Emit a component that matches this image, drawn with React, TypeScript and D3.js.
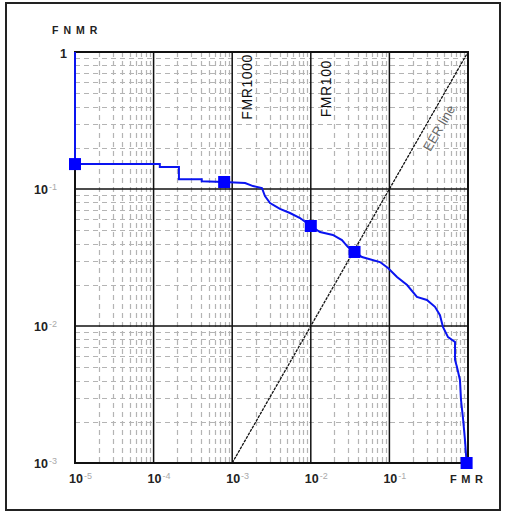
import React, { useEffect, useRef } from 'react';
import * as d3 from 'd3';

// DET curve (FMR, FNMR)
const fmr = [1e-5, 1e-5, 1.2e-4, 1.2e-4, 2.1e-4, 2.1e-4, 4.1e-4, 4.1e-4, 7.9e-4, 1.46e-3, 1.84e-3, 2.39e-3,
  2.61e-3, 3.03e-3, 4.05e-3, 5.43e-3, 7.3e-3, 1.0e-2, 1.31e-2, 1.91e-2, 2.49e-2, 2.97e-2, 3.6e-2, 4.48e-2,
  7.59e-2, 9.6e-2, 0.125, 0.168, 0.224, 0.30, 0.38, 0.44, 0.48, 0.557, 0.684, 0.684, 0.724, 0.79, 0.815,
  0.863, 0.916, 0.96];
const fnmr = [1.0, 0.152, 0.152, 0.145, 0.145, 0.118, 0.118, 0.114, 0.1125, 0.1106, 0.105, 0.1017,
  0.0889, 0.079, 0.0715, 0.0668, 0.0614, 0.0537, 0.0485, 0.0462, 0.0424, 0.0377, 0.0347, 0.0319,
  0.0293, 0.0265, 0.0228, 0.0199, 0.0163, 0.0155, 0.0138, 0.012, 0.00984, 0.0083, 0.00764, 0.00565,
  0.00502, 0.00404, 0.00288, 0.00213, 0.00147, 0.001];

const markerFmr = [1e-5, 7.9e-4, 1.0e-2, 3.6e-2, 0.96];
const markerFnmr = [0.152, 0.1125, 0.0537, 0.0347, 0.001];

const xExps = [-5, -4, -3, -2, -1];
const yExps = [-1, -2, -3];

export default function App() {
  const ref = useRef<SVGSVGElement>(null);

  useEffect(() => {
    const svg = d3.select(ref.current);
    svg.selectAll('*').remove();
    const font = 'Liberation Sans, Arial, sans-serif';

    const left = 75, right = 468, top = 52, bottom = 463;
    const x = d3.scaleLog().domain([1e-5, 1]).range([left, right]);
    const y = d3.scaleLog().domain([1e-3, 1]).range([bottom, top]);

    // outer frame
    svg.append('rect').attr('x', 6).attr('y', 3).attr('width', 494).attr('height', 507)
      .attr('fill', 'white').attr('stroke', '#222').attr('stroke-width', 2);

    // minor grid
    const minorX: number[] = [];
    for (let e = -5; e < 0; e++) for (let m = 2; m <= 9; m++) minorX.push(m * Math.pow(10, e));
    const minorY: number[] = [];
    for (let e = -3; e < 0; e++) for (let m = 2; m <= 9; m++) minorY.push(m * Math.pow(10, e));

    const grid = svg.append('g').attr('stroke', '#b4b4b4').attr('stroke-width', 1.2)
      .attr('stroke-dasharray', '5,4');
    grid.selectAll('.vx').data(minorX).enter().append('line')
      .attr('x1', d => Math.round(x(d)) + 0.5).attr('x2', d => Math.round(x(d)) + 0.5)
      .attr('y1', top).attr('y2', bottom);
    grid.selectAll('.hy').data(minorY).enter().append('line')
      .attr('y1', d => Math.round(y(d)) + 0.5).attr('y2', d => Math.round(y(d)) + 0.5)
      .attr('x1', left).attr('x2', right);

    // major grid
    const major = svg.append('g').attr('stroke', '#111').attr('stroke-width', 1.5);
    major.selectAll('.mx').data(xExps.slice(1)).enter().append('line')
      .attr('x1', d => x(Math.pow(10, d))).attr('x2', d => x(Math.pow(10, d)))
      .attr('y1', top).attr('y2', bottom);
    major.selectAll('.my').data(yExps.slice(0, 2)).enter().append('line')
      .attr('y1', d => y(Math.pow(10, d))).attr('y2', d => y(Math.pow(10, d)))
      .attr('x1', left).attr('x2', right);

    // plot frame
    svg.append('rect').attr('x', left).attr('y', top).attr('width', right - left).attr('height', bottom - top)
      .attr('fill', 'none').attr('stroke', '#111').attr('stroke-width', 2);

    // EER line
    svg.append('line').attr('x1', x(1e-3)).attr('y1', y(1e-3)).attr('x2', x(1)).attr('y2', y(1))
      .attr('stroke', '#111').attr('stroke-width', 1.3).attr('stroke-dasharray', '3,1');
    svg.append('text').attr('transform', `translate(439,128) rotate(-60)`)
      .attr('text-anchor', 'middle').attr('dy', '0.35em').attr('font-family', font).attr('font-size', 13)
      .attr('fill', '#666').text('EER line');

    // FMR1000 / FMR100 labels
    svg.append('text').attr('transform', `translate(${x(1e-3) + 20},${top + 2}) rotate(-90)`)
      .attr('text-anchor', 'end').attr('font-family', font).attr('font-size', 14)
      .attr('letter-spacing', 0.6).attr('fill', '#111').text('FMR1000');
    svg.append('text').attr('transform', `translate(${x(1e-2) + 20},${top + 8}) rotate(-90)`)
      .attr('text-anchor', 'end').attr('font-family', font).attr('font-size', 14)
      .attr('letter-spacing', 0.6).attr('fill', '#111').text('FMR100');

    // curve
    const pts = fmr.map((f, i) => [f, fnmr[i]] as [number, number]);
    const line = d3.line<[number, number]>().x(d => x(d[0])).y(d => y(d[1]));
    svg.append('path').attr('d', line(pts)).attr('fill', 'none')
      .attr('stroke', '#0a14f0').attr('stroke-width', 2);

    const ms = 12;
    svg.selectAll('.mk').data(markerFmr).enter().append('rect')
      .attr('x', d => x(d) - ms / 2).attr('y', (d, i) => y(markerFnmr[i]) - ms / 2)
      .attr('width', ms).attr('height', ms).attr('fill', '#0000ff');

    // axis labels
    const tick = (g: d3.Selection<SVGTextElement, unknown, null, undefined>, e: number) => {
      g.append('tspan').attr('font-weight', 'bold').attr('fill', '#222').text('10');
      g.append('tspan').attr('font-size', 9).attr('dy', -4).attr('dx', 1).attr('fill', '#aaa').text(String(e));
    };
    xExps.forEach(e => {
      const t = svg.append('text').attr('x', x(Math.pow(10, e)) - 6).attr('y', 483)
        .attr('font-family', font).attr('font-size', 12.5);
      tick(t as any, e);
    });
    yExps.forEach(e => {
      const t = svg.append('text').attr('x', 34).attr('y', y(Math.pow(10, e)) + 5)
        .attr('font-family', font).attr('font-size', 12.5);
      tick(t as any, e);
    });
    svg.append('text').attr('x', 60).attr('y', 58).attr('font-family', font).attr('font-size', 12.5)
      .attr('font-weight', 'bold').attr('fill', '#222').text('1');

    svg.append('text').attr('x', 52).attr('y', 34).attr('font-family', font).attr('font-size', 10.5)
      .attr('font-weight', 'bold').attr('letter-spacing', 5).attr('fill', '#222').text('FNMR');
    svg.append('text').attr('x', 450).attr('y', 483).attr('font-family', font).attr('font-size', 11)
      .attr('font-weight', 'bold').attr('letter-spacing', 4.5).attr('fill', '#222').text('FMR');
  }, []);

  return (
    <svg ref={ref} width={510} height={512}
      style={{ position: 'absolute', left: 0, top: 0, background: 'white' }} />
  );
}
